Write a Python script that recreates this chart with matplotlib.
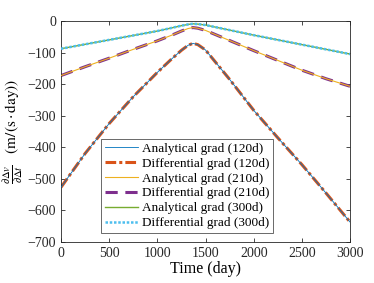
import matplotlib.pyplot as plt
import numpy as np

# time samples (day)
t = [0, 250, 500, 750, 1000, 1150, 1250, 1320, 1370, 1420, 1500, 1750, 2000, 2250, 2500, 2750, 3000]

grad_120 = [-527, -420, -325, -240, -163, -120, -93, -77, -71, -75, -92, -185, -283, -370, -455, -545, -637]
grad_210 = [-173, -145, -118, -90, -63, -45, -32, -24, -21, -23, -30, -62, -94, -125, -156, -183, -207]
grad_300 = [-88, -74, -60, -46, -32, -22, -15, -11, -9, -10, -13, -29, -45, -60, -75, -90, -105]

plt.rcParams['font.family'] = ['Liberation Serif', 'DejaVu Serif']
plt.rcParams['mathtext.fontset'] = 'stix'
plt.rcParams['font.size'] = 10

fig = plt.figure(figsize=(3.74, 2.83), dpi=100)
ax = fig.add_axes([0.163, 0.145, 0.773, 0.781])

ax.plot(t, grad_120, color='#0072BD', lw=0.6, label='Analytical grad (120d)', zorder=3)
ax.plot(t, grad_120, color='#D95319', lw=2.2, ls=(0, (3.5, 1, 1, 1)), label='Differential grad (120d)', zorder=2)
ax.plot(t, grad_210, color='#EDB120', lw=0.8, label='Analytical grad (210d)', zorder=3)
ax.plot(t, grad_210, color='#7E2F8E', lw=2.2, ls=(0, (4, 2.5)), label='Differential grad (210d)', zorder=2)
ax.plot(t, grad_300, color='#77AC30', lw=1.0, label='Analytical grad (300d)', zorder=2)
ax.plot(t, grad_300, color='#4DBEEE', lw=1.8, ls=(0, (1, 0.7)), label='Differential grad (300d)', zorder=3)

ax.set_xlim(0, 3000)
ax.set_ylim(-700, 0)
ax.set_xticks(np.arange(0, 3001, 500))
ax.set_yticks(np.arange(-700, 1, 100))
ax.tick_params(direction='in', top=True, right=True, length=3, width=0.5, labelsize=10,
               labelcolor='#262626')
for s in ax.spines.values():
    s.set_linewidth(0.6)
    s.set_color('#262626')

ax.set_xlabel('Time (day)', fontsize=11.5, labelpad=1)
ax.set_ylabel(r'$\frac{\partial \Delta v}{\partial \Delta t}$   $(\mathrm{m}/(\mathrm{s}\cdot\mathrm{day}))$',
              fontsize=11, labelpad=2)

leg = ax.legend(loc='lower left', bbox_to_anchor=(0.138, 0.04), fontsize=9.5, frameon=True,
                fancybox=False, edgecolor='#262626', handlelength=2.5, handletextpad=0.3,
                borderpad=0.3, labelspacing=0.2, borderaxespad=0)
leg.get_frame().set_linewidth(0.6)

fig.savefig('out.png', dpi=100)
